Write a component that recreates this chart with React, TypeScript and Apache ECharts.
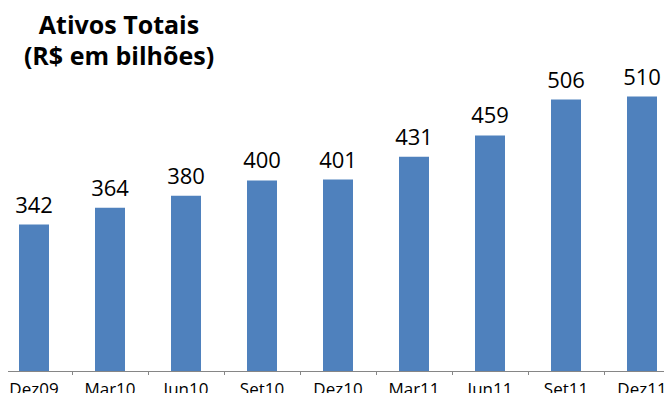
import React, { useEffect, useRef } from "react";
import * as echarts from "echarts";

const categories = ["Dez09", "Mar10", "Jun10", "Set10", "Dez10", "Mar11", "Jun11", "Set11", "Dez11"];
const values = [342, 364, 380, 400, 401, 431, 459, 506, 510];
const titleLines = ["Ativos Totais", "(R$ em bilhões)"];

export default function App() {
  const ref = useRef<HTMLDivElement>(null);
  useEffect(() => {
    if (!ref.current) return;
    const chart = echarts.init(ref.current, null, { renderer: "svg" });
    chart.setOption({
      animation: false,
      backgroundColor: "#ffffff",
      graphic: titleLines.map((t, i) => ({
        type: "text",
        x: 123,
        y: 24 + i * 31,
        style: {
          text: t,
          align: "center",
          verticalAlign: "middle",
          fontFamily: "Open Sans",
          fontWeight: "bold",
          fontSize: 25,
          fill: "#000000",
        },
      })),
      grid: { left: 0, top: 66, width: 684, height: 305, containLabel: false },
      xAxis: {
        type: "category",
        data: categories,
        boundaryGap: true,
        axisLine: { show: true, lineStyle: { color: "#868686", width: 1 } },
        axisTick: { show: true, length: 4, lineStyle: { color: "#868686" } },
        axisLabel: {
          color: "#000000",
          fontFamily: "Open Sans",
          fontSize: 17,
          margin: 9,
        },
      },
      yAxis: {
        type: "value",
        min: 150,
        max: 550,
        show: false,
        splitLine: { show: false },
      },
      series: [
        {
          type: "bar",
          data: values,
          barWidth: 30,
          itemStyle: { color: "#4F81BD" },
          label: {
            show: true,
            position: "top",
            distance: 10,
            color: "#000000",
            fontFamily: "Open Sans",
            fontSize: 22,
          },
        },
      ],
    });
    return () => chart.dispose();
  }, []);
  return (
    <div style={{ width: 672, height: 401, margin: -8, overflow: "hidden", position: "relative" }}>
      <div ref={ref} style={{ width: 690, height: 401, position: "absolute", left: -4, top: 0 }} />
    </div>
  );
}
